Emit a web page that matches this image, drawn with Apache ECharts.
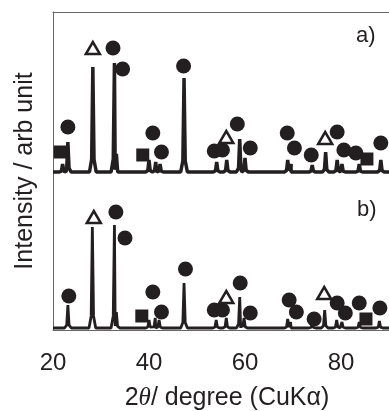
<!DOCTYPE html>
<html><head><meta charset="utf-8">
<script src="https://cdn.jsdelivr.net/npm/echarts@6/dist/echarts.min.js"></script>
<style>html,body{margin:0;padding:0;background:#fff}#c{width:389px;height:411px}</style>
</head><body><div id="c"></div>
<script>
// ---- data (2θ in degrees, intensity in arbitrary units) ----
const xTicks = [20, 40, 60, 80];
const baseA = 158;           // offset of trace a)
const baseB = 2;             // offset of trace b)
// trace a) peaks: position, height above baseline
const peaksA_pos = [22.0, 23.1, 28.3, 32.8, 33.2, 40.0, 41.4, 42.3, 47.3, 54.1, 56.2, 58.9, 60.0, 68.9, 69.6, 74.0, 76.8, 79.2, 80.2, 83.8, 88.3];
const peaksA_h   = [8,    30,   105,  109,  18,   12,   10,   8,    94,   10,   12,   33,   14,   12,   8,    7,    20,   12,   8,    8,    12];
// trace b) peaks
const peaksB_pos = [23.1, 28.2, 32.8, 33.2, 40.0, 41.3, 42.1, 47.3, 54.0, 56.1, 58.9, 59.8, 68.9, 69.5, 74.0, 76.6, 79.1, 80.2, 83.8, 88.0];
const peaksB_h   = [23,   101,  103,  16,   8,    10,   8,    45,   8,    10,   31,   10,   9,    6,    5,    18,   8,    6,    6,    7];
// phase markers (2θ, intensity)
const circlesA   = [[23.1,203],[32.5,282],[34.5,261],[40.8,197],[42.6,178],[47.2,264],[53.6,179],[55.3,180],[58.4,206],[61.1,182],[68.8,197],[70.3,182],[73.8,175],[79.2,198],[80.6,180],[83.1,177],[88.3,187]];
const trianglesA = [[28.3,282],[56.1,193],[76.7,192]];
const squaresA   = [[21.5,178],[38.7,175],[85.4,171]];
const circlesB   = [[23.3,34],[33.1,118],[35.0,92],[40.8,38],[42.6,18],[47.6,61],[53.6,20],[55.3,20],[59.0,47],[61.1,17],[69.2,30],[70.7,18],[74.4,11],[79.2,27],[80.9,17],[83.8,27],[88.1,22]];
const trianglesB = [[28.5,113],[56.1,33],[76.5,37]];
const squaresB   = [[38.5,14],[85.2,11]];

const INK = '#231f20';
const FONT = 'Liberation Sans, Arial, sans-serif';
function trace(pos, h, base, w) {
  const pts = [[20, base]];
  pos.forEach((p, i) => {
    pts.push([p - w, base], [p - w * 0.35, base + h[i] * 0.12], [p, base + h[i]], [p + w * 0.35, base + h[i] * 0.12], [p + w, base]);
  });
  pts.push([90, base]);
  pts.sort((a, b) => a[0] - b[0]);
  return pts;
}
const chart = echarts.init(document.getElementById('c'), null, {renderer: 'canvas'});
const markerStyle = {color: INK, opacity: 1};
chart.setOption({
  animation: false,
  textStyle: {fontFamily: FONT},
  grid: {left: 53, right: 0, top: 12, bottom: 81, containLabel: false, outerBoundsMode: 'none'},
  xAxis: [{
    type: 'value', min: 20, max: 90, interval: 20,
    axisLine: {show: true, lineStyle: {color: '#666', width: 1}},
    axisTick: {show: false}, splitLine: {show: false},
    axisLabel: {fontSize: 24, color: INK, margin: 21,
      formatter: v => xTicks.includes(v) ? String(v) : ''},
    name: '2{i|θ}/ degree (CuKα)', nameLocation: 'middle', nameGap: 56,
    nameTextStyle: {fontSize: 25, color: INK, padding: [0, 0, 0, 12],
      rich: {i: {fontStyle: 'italic', fontSize: 25, color: INK, fontFamily: 'Liberation Serif, serif'}}}
  }, {
    type: 'value', min: 20, max: 90, position: 'top',
    axisLine: {show: true, onZero: false, lineStyle: {color: '#666', width: 1}},
    axisTick: {show: false}, axisLabel: {show: false}, splitLine: {show: false}
  }],
  yAxis: {
    type: 'value', min: 0, max: 318,
    axisLine: {show: true, lineStyle: {color: '#666', width: 1}},
    axisTick: {show: false}, axisLabel: {show: false}, splitLine: {show: false},
    name: 'Intensity / arb unit', nameLocation: 'middle', nameGap: 15,
    nameTextStyle: {fontSize: 25, color: INK}
  },
  series: [
    {type: 'line', data: trace(peaksA_pos, peaksA_h, baseA, 0.7), showSymbol: false, lineStyle: {color: INK, width: 3.5}, z: 2},
    {type: 'line', data: trace(peaksB_pos, peaksB_h, baseB, 0.7), showSymbol: false, lineStyle: {color: INK, width: 2.8}, z: 2},
    {type: 'scatter', data: circlesA.concat(circlesB), symbol: 'circle', symbolSize: 15, itemStyle: markerStyle, z: 3},
    {type: 'scatter', data: squaresA.concat(squaresB), symbol: 'rect', symbolSize: 13, itemStyle: markerStyle, z: 3},
    {type: 'scatter', data: trianglesA.concat(trianglesB), symbol: 'triangle', symbolSize: [14, 12], itemStyle: {color: '#fff', borderColor: INK, borderWidth: 2.5, opacity: 1}, z: 3}
  ],
  graphic: [
    {type: 'text', left: 356, top: 25, style: {text: 'a)', fontSize: 22, fill: INK, fontFamily: FONT}},
    {type: 'text', left: 357, top: 199, style: {text: 'b)', fontSize: 22, fill: INK, fontFamily: FONT}}
  ]
});
</script></body></html>
